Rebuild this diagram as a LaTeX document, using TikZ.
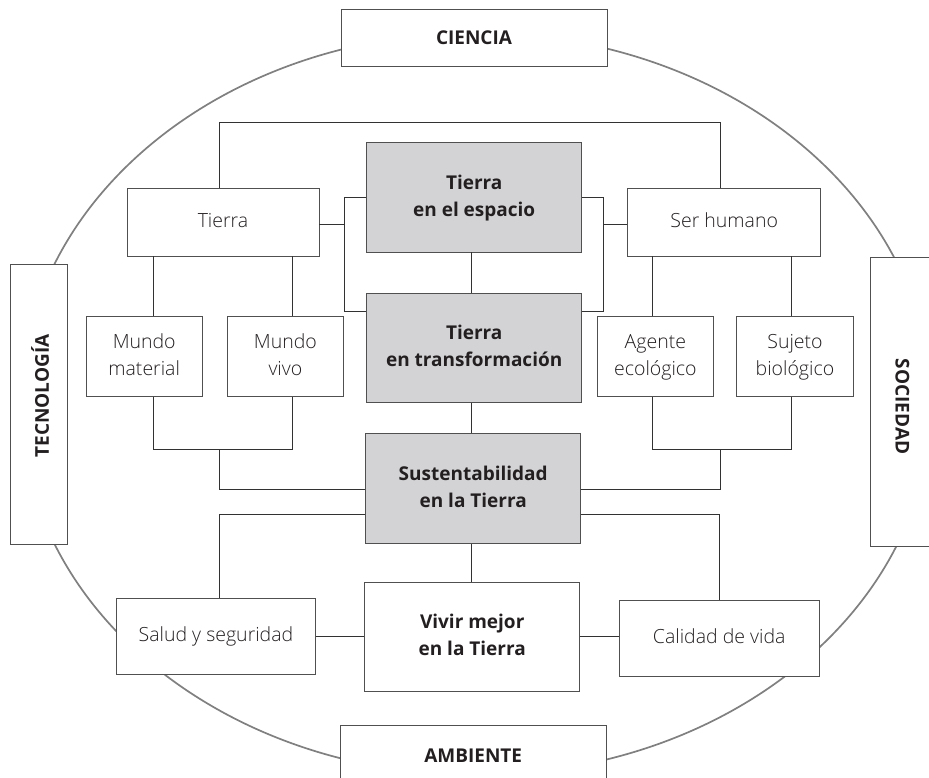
\documentclass[tikz,border=0pt]{standalone}
\usepackage{fontspec}
\setmainfont{Open Sans}[UprightFont={* Light}, BoldFont={* Bold}]
\definecolor{txt}{RGB}{35,31,32}
\definecolor{bordc}{RGB}{80,80,80}
\definecolor{lnc}{RGB}{50,50,50}
\definecolor{ringc}{RGB}{128,128,128}
\definecolor{grayf}{RGB}{211,211,213}
\tikzset{
  box/.style={draw=bordc, line width=0.9pt, fill=white, inner sep=0pt, align=center,
    text=txt, font=\fontsize{19.5}{27.5}\selectfont},
  boldbox/.style={box, font=\fontsize{19}{27.5}\selectfont\bfseries},
  graybox/.style={boldbox, fill=grayf},
  conn/.style={draw=lnc, line width=0.9pt},
  ring/.style={draw=ringc, line width=1.7pt},
  outerlabel/.style={font=\fontsize{19}{27.5}\selectfont\bfseries, text=txt, inner sep=0pt}
}
\begin{document}
\begin{tikzpicture}[x=1pt,y=-1pt]
\useasboundingbox (0,0) rectangle (929,778);
\clip (0,0) rectangle (929,778);
\fill[white] (0,0) rectangle (929,778);

% outer ring
\draw[ring] (476,404) ellipse [x radius=455pt, y radius=371pt];

% outer boxes
\node[boldbox, minimum width=266pt, minimum height=56.7pt] (ciencia) at (474,37.7) {CIENCIA};
\node[boldbox, minimum width=265.7pt, minimum height=60.6pt] (ambiente) at (473.2,756) {AMBIENTE};
\node[box, minimum width=56.6pt, minimum height=279.7pt] (tecno) at (39,404.2) {};
\node[outerlabel, rotate=90] (tecnolabel) at (40,396) {TECNOLOGÍA};
\node[box, minimum width=63.3pt, minimum height=289.4pt] (soc) at (902.3,402) {};
\node[outerlabel, rotate=-90] (soclabel) at (902.5,406.7) {SOCIEDAD};

% inner boxes
\node[box, minimum width=192pt, minimum height=68pt] (tierra) at (223,222) {\strut Tierra};
\node[box, minimum width=193pt, minimum height=68pt] (serh) at (724.2,222) {\strut Ser humano};
\node[graybox, minimum width=215pt, minimum height=109.3pt] (esp) at (474.2,197.3) {\strut Tierra\\\strut en el espacio};
\node[graybox, minimum width=215pt, minimum height=109.3pt] (trans) at (474.2,347.7) {\strut Tierra\\\strut en transformación};
\node[graybox, minimum width=215pt, minimum height=109.6pt] (sust) at (473.2,488.5) {\strut Sustentabilidad\\\strut en la Tierra};
\node[boldbox, minimum width=215pt, minimum height=109.3pt] (vivir) at (472.2,636.7) {\strut Vivir mejor\\\strut en la Tierra};

\node[box, minimum width=116.3pt, minimum height=79.6pt] (mm) at (144.2,356.5) {\strut Mundo\\\strut material};
\node[box, minimum width=116.7pt, minimum height=79.6pt] (mv) at (285.4,356.5) {\strut Mundo\\\strut vivo};
\node[box, minimum width=116.7pt, minimum height=79.6pt] (ag) at (655.4,356.5) {\strut Agente\\\strut ecológico};
\node[box, minimum width=116.6pt, minimum height=79.6pt] (su) at (795,356.5) {\strut Sujeto\\\strut biológico};

\node[box, minimum width=199.4pt, minimum height=76pt] (salud) at (216,636.3) {\strut Salud y seguridad};
\node[box, minimum width=199.7pt, minimum height=76pt] (cal) at (719.2,638) {\strut Calidad de vida};

% helper coordinates
\coordinate (vline) at (471.5,0);
\coordinate (topL) at (219.5,122);
\coordinate (topR) at (720.5,122);
\coordinate (lbr) at (344,311);
\coordinate (rbr) at (603.5,311);
\coordinate (mmx) at (153.7,449);
\coordinate (mvx) at (292.7,449);
\coordinate (agx) at (652,449);
\coordinate (sux) at (791.3,449);
\coordinate (lowL) at (219.3,489.3);
\coordinate (lowR) at (720.3,489.3);
\coordinate (botL) at (219.3,514.3);
\coordinate (botR) at (719,514.3);

% connectors
\draw[conn] (tierra.north -| topL) -- (topL) -- (topR) -- (serh.north -| topR);
\draw[conn] (esp.west) -| (lbr) -- (lbr -| trans.west);
\draw[conn] ([yshift=-2pt]tierra.east) -- ([yshift=-2pt]tierra.east -| lbr);
\draw[conn] (esp.east) -| (rbr) -- (rbr -| trans.east);
\draw[conn] ([yshift=-2pt]serh.west) -- ([yshift=-2pt]serh.west -| rbr);
\draw[conn] (esp.south -| vline) -- (trans.north -| vline);
\draw[conn] (trans.south -| vline) -- (sust.north -| vline);
\draw[conn] (sust.south -| vline) -- (vivir.north -| vline);
\draw[conn] (tierra.south -| mmx) -- (mm.north -| mmx);
\draw[conn] (tierra.south -| mvx) -- (mv.north -| mvx);
\draw[conn] (serh.south -| agx) -- (ag.north -| agx);
\draw[conn] (serh.south -| sux) -- (su.north -| sux);
\draw[conn] (mm.south -| mmx) -- (mmx) -- (mvx) -- (mv.south -| mvx);
\draw[conn] (ag.south -| agx) -- (agx) -- (sux) -- (su.south -| sux);
\draw[conn] (lowL |- mmx) -- (lowL) -- (lowL -| sust.west);
\draw[conn] (lowR |- agx) -- (lowR) -- (lowR -| sust.east);
\draw[conn] (botL -| sust.west) -- (botL) -- (salud.north -| botL);
\draw[conn] (botR -| sust.east) -- (botR) -- (cal.north -| botR);
\draw[conn] (salud.east) -- (salud.east -| vivir.west);
\draw[conn] (vivir.east) -- (vivir.east -| cal.west);
\end{tikzpicture}
\end{document}
